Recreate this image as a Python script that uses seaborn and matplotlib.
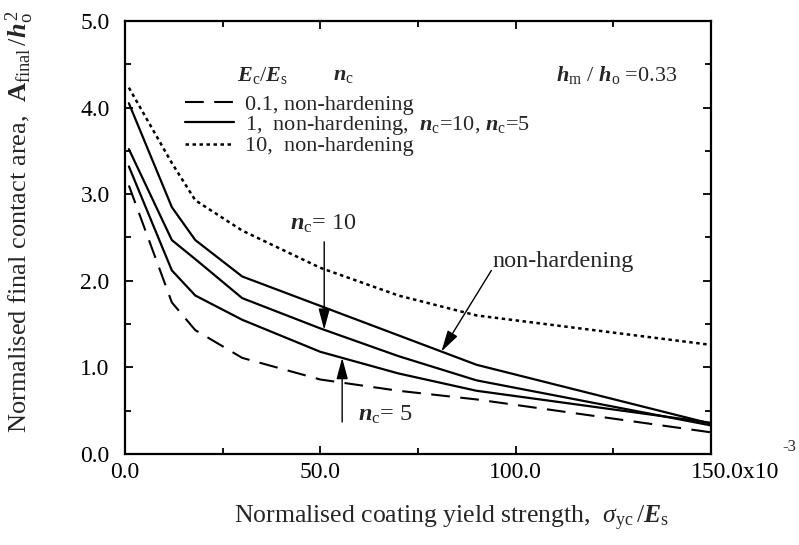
import numpy as np
import pandas as pd
import matplotlib
matplotlib.use("Agg")
import matplotlib.pyplot as plt
import matplotlib.transforms as mtransforms
import seaborn as sns

# Normalised coating yield strength, sigma_yc / E_s  (x 1e-3)
sigma_yc = [1, 12, 18, 30, 50, 70, 90, 150]

# Normalised final contact area, A_final / h_o^2
area_e01_nonhard = [3.10, 1.75, 1.43, 1.11, 0.86, 0.73, 0.63, 0.25]
area_e1_nonhard = [4.05, 2.85, 2.47, 2.05, 1.71, 1.37, 1.03, 0.35]
area_e1_n10 = [3.52, 2.47, 2.25, 1.80, 1.45, 1.13, 0.85, 0.33]
area_e1_n5 = [3.32, 2.12, 1.83, 1.55, 1.18, 0.93, 0.73, 0.36]
area_e10_nonhard = [4.23, 3.36, 2.93, 2.58, 2.15, 1.83, 1.60, 1.26]

x_ticks = [0, 50, 100, 150]
x_tick_labels = ["0.0", "50.0", "100.0", "150.0x10"]
y_ticks = [0, 1, 2, 3, 4, 5]
y_tick_labels = ["0.0", "1.0", "2.0", "3.0", "4.0", "5.0"]

legend_labels = [
    "0.1, non-hardening",
    r"1,  non-hardening,  $\mathbfit{n}_{\rm c}$=10, $\mathbfit{n}_{\rm c}$=5",
    "10,  non-hardening",
]

sns.set_style("ticks")
plt.rcParams["font.family"] = ["Liberation Serif", "DejaVu Serif"]
plt.rcParams["mathtext.fontset"] = "custom"
plt.rcParams["mathtext.rm"] = "Liberation Serif"
plt.rcParams["mathtext.it"] = "Liberation Serif:italic"
plt.rcParams["mathtext.bf"] = "Liberation Serif:bold"
plt.rcParams["mathtext.bfit"] = "Liberation Serif:italic:bold"

curves = pd.DataFrame({
    "sigma": sigma_yc * 5,
    "area": area_e01_nonhard + area_e1_nonhard + area_e1_n10 + area_e1_n5 + area_e10_nonhard,
    "curve": (["e01"] * len(sigma_yc) + ["e1"] * len(sigma_yc) + ["n10"] * len(sigma_yc)
              + ["n5"] * len(sigma_yc) + ["e10"] * len(sigma_yc)),
})

fig = plt.figure(figsize=(7.99, 5.45), dpi=100)
ax = fig.add_axes([0.1564, 0.167, 0.7334, 0.7945])

line_styles = {
    "e01": dict(linestyle=(0, (9, 5)), linewidth=1.5),
    "e1": dict(linestyle="-", linewidth=1.6),
    "n10": dict(linestyle="-", linewidth=1.6),
    "n5": dict(linestyle="-", linewidth=1.6),
    "e10": dict(linestyle=(0, (1.4, 1.4)), linewidth=1.8),
}
handles = {}
for key, st in line_styles.items():
    sub = curves[curves["curve"] == key]
    sns.lineplot(data=sub, x="sigma", y="area", ax=ax, color="black",
                 estimator=None, sort=False, legend=False, **st)
    handles[key] = ax.lines[-1]

ax.set_xlim(0, 150)
ax.set_ylim(0, 5)
ax.set_xticks(x_ticks, x_tick_labels)
ax.set_xticks([25, 75, 125], minor=True)
ax.set_yticks(y_ticks, y_tick_labels)
ax.set_yticks(np.arange(0.5, 5, 1.0), minor=True)
ax.tick_params(which="both", direction="in", top=True, right=True,
               labelsize=17, colors="black", width=1.3)
ax.tick_params(which="major", length=6)
ax.tick_params(which="minor", length=4)
ax.tick_params(axis="x", pad=6)
ax.tick_params(axis="y", pad=11)
for sp in ax.spines.values():
    sp.set_linewidth(1.6)
    sp.set_color("black")

# last x tick label starts just left of its tick
last = ax.get_xticklabels()[-1]
last.set_horizontalalignment("left")
last.set_transform(last.get_transform()
                   + mtransforms.ScaledTranslation(-0.2, 0, fig.dpi_scale_trans))
fig.text(782 / 799, 1 - 447 / 545, "-3", fontsize=12, ha="left", va="center")

ax.set_xlabel(r"Normalised coating yield strength,  $\sigma_{\rm yc}\,/\mathbfit{E}_{\rm s}$",
              fontsize=18.5)
ax.xaxis.set_label_coords(0.558, -0.115)
ax.set_ylabel(r"Normalised final contact area,  $\mathbf{A}_{\rm final}\,/\mathbfit{h}_{\rm o}^{\,2}$",
              fontsize=19)
ax.yaxis.set_label_coords(-0.152, 0.536)

# legend
ax.text(0.191, 0.875, r"$\mathbfit{E}_{\rm c}/\mathbfit{E}_{\rm s}$", transform=ax.transAxes,
        fontsize=16, ha="left", va="center")
ax.text(0.355, 0.875, r"$\mathbfit{n}_{\rm c}$", transform=ax.transAxes,
        fontsize=16, ha="left", va="center")
ax.legend([handles["e01"], handles["e1"], handles["e10"]], legend_labels,
          loc="upper left", bbox_to_anchor=(0.102, 0.830), frameon=False,
          fontsize=16, handlelength=2.2, handletextpad=0.5, labelspacing=-0.05,
          borderpad=0, borderaxespad=0)

ax.text(0.735, 0.875, r"$\mathbfit{h}_{\rm m}$ / $\mathbfit{h}_{\rm o}$ =0.33",
        transform=ax.transAxes, fontsize=16, ha="left", va="center")

arrow = dict(arrowstyle="-|>,head_length=1.3,head_width=0.35", color="black",
             lw=1.0, shrinkA=0, shrinkB=0, mutation_scale=10)

x10 = 51.0
ax.annotate("", xy=(x10, np.interp(x10, sigma_yc, area_e1_n10)), xytext=(x10, 2.45),
            arrowprops=arrow)
ax.text(42.2, 2.66, r"$\mathbfit{n}_{\rm c}$= 10", fontsize=17.5, ha="left", va="center")

x5 = 55.6
ax.annotate("", xy=(x5, np.interp(x5, sigma_yc, area_e1_n5)), xytext=(x5, 0.37),
            arrowprops=arrow)
ax.text(59.6, 0.45, r"$\mathbfit{n}_{\rm c}$= 5", fontsize=17.5, ha="left", va="center")

xnh = 81.0
ax.annotate("", xy=(xnh, np.interp(xnh, sigma_yc, area_e1_nonhard)), xytext=(93.8, 2.12),
            arrowprops=arrow)
ax.text(94.0, 2.22, "non-hardening", fontsize=17.5, ha="left", va="center")

fig.savefig("out.png", dpi=100)
